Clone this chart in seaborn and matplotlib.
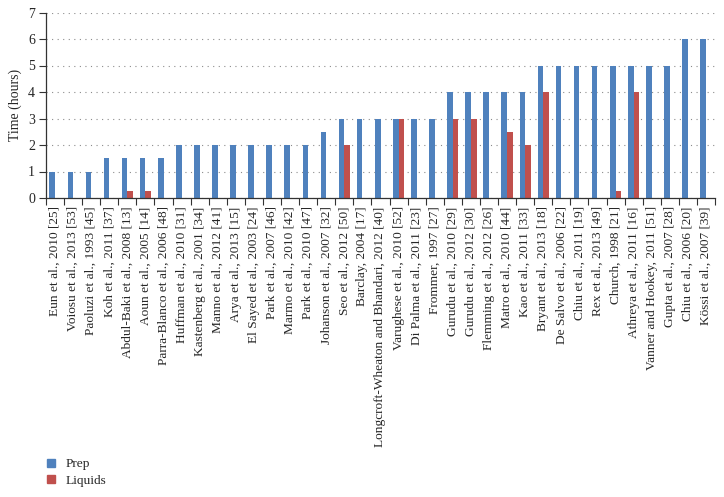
import numpy as np
import pandas as pd
import matplotlib
matplotlib.use('Agg')
import matplotlib.pyplot as plt
import seaborn as sns

# ---- data ----
studies = [
    'Eun et al., 2010 [25]', 'Voiosu et al., 2013 [53]', 'Paoluzi et al., 1993 [45]',
    'Koh et al., 2011 [37]', 'Abdul-Baki et al., 2008 [13]', 'Aoun et al., 2005 [14]',
    'Parra-Blanco et al., 2006 [48]', 'Huffman et al., 2010 [31]', 'Kastenberg et al., 2001 [34]',
    'Manno et al., 2012 [41]', 'Arya et al., 2013 [15]', 'El Sayed et al., 2003 [24]',
    'Park et al., 2007 [46]', 'Marmo et al., 2010 [42]', 'Park et al., 2010 [47]',
    'Johanson et al., 2007 [32]', 'Seo et al., 2012 [50]', 'Barclay, 2004 [17]',
    'Longcroft-Wheaton and Bhandari, 2012 [40]', 'Varughese et al., 2010 [52]',
    'Di Palma et al., 2011 [23]', 'Frommer, 1997 [27]', 'Gurudu et al., 2010 [29]',
    'Gurudu et al., 2012 [30]', 'Flemming et al., 2012 [26]', 'Matro et al., 2010 [44]',
    'Kao et al., 2011 [33]', 'Bryant et al., 2013 [18]', 'De Salvo et al., 2006 [22]',
    'Chiu et al., 2011 [19]', 'Rex et al., 2013 [49]', 'Church, 1998 [21]',
    'Athreya et al., 2011 [16]', 'Vanner and Hookey, 2011 [51]', 'Gupta et al., 2007 [28]',
    'Chiu et al., 2006 [20]', 'Kössi et al., 2007 [39]',
]
prep = [1, 1, 1, 1.5, 1.5, 1.5, 1.5, 2, 2, 2, 2, 2, 2, 2, 2, 2.5, 3, 3, 3, 3, 3, 3,
        4, 4, 4, 4, 4, 5, 5, 5, 5, 5, 5, 5, 5, 6, 6]
liquids = [0, 0, 0, 0, 0.25, 0.25, 0, 0, 0, 0, 0, 0, 0, 0, 0, 0, 2, 0, 0, 3, 0, 0,
           3, 3, 0, 2.5, 2, 4, 0, 0, 0, 0.25, 4, 0, 0, 0, 0]
series = ['Prep', 'Liquids']
colors = ['#4F81BD', '#C0504D']

df = pd.DataFrame({
    'study': studies * 2,
    'hours': prep + liquids,
    'series': [series[0]] * len(studies) + [series[1]] * len(studies),
})

sns.set_style('white')
plt.rcParams['font.family'] = ['Liberation Serif', 'DejaVu Serif']

fig = plt.figure(figsize=(7.24, 4.97), dpi=100)
ax = fig.add_axes([46 / 724, 1 - 198 / 497, (715 - 46) / 724, (198 - 12.5) / 497])

sns.barplot(data=df, x='study', y='hours', hue='series', palette=colors,
            order=studies, hue_order=series, width=0.62, saturation=1,
            edgecolor='none', ax=ax, legend=False)

ax.set_ylim(0, 7)
ax.set_xlim(-0.5, len(studies) - 0.5)
ax.set_yticks(range(8))
ax.yaxis.grid(True, color='#8c8c8c', linestyle=(0, (1, 4)), linewidth=0.8)
ax.set_axisbelow(True)
ax.set_xlabel('')
ax.set_ylabel('Time (hours)', fontsize=10, labelpad=4)

ax.set_xticks(range(len(studies)))
ax.set_xticklabels(studies, rotation=90, fontsize=9.6)
ax.set_xticks(np.arange(-0.5, len(studies)), minor=True)
ax.tick_params(axis='x', which='major', length=0, pad=6)
ax.tick_params(axis='x', which='minor', length=5, width=0.8, color='#333333', direction='out', bottom=True)
ax.tick_params(axis='y', length=5, width=0.8, color='#333333', direction='out', left=True,
               labelsize=10, pad=3)

for s in ['top', 'right']:
    ax.spines[s].set_visible(False)
for s in ['left', 'bottom']:
    ax.spines[s].set_color('#333333')
    ax.spines[s].set_linewidth(0.9)

handles = [plt.Rectangle((0, 0), 1, 1, color=c) for c in colors]
fig.legend(handles, series, loc='upper left', bbox_to_anchor=(42 / 724, 1 - 453 / 497),
           borderaxespad=0, frameon=False, fontsize=9.6, handlelength=0.55, handleheight=0.55,
           handletextpad=0.8, labelspacing=0.35)

plt.savefig('out.png', dpi=100)
